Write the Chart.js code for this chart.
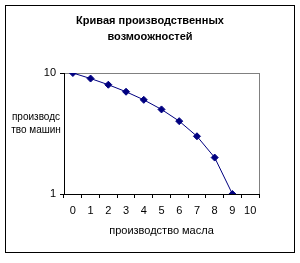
<!DOCTYPE html>
<html>
<head>
<meta charset="utf-8">
<script src="https://cdn.jsdelivr.net/npm/chart.js@4"></script>
<style>
  html, body { margin: 0; padding: 0; background: #fff; }
  #wrap { width: 300px; height: 263px; }
</style>
</head>
<body>
<div id="wrap"><canvas id="ppf"></canvas></div>
<script>
// production possibilities data
const butterLabels = ['0', '1', '2', '3', '4', '5', '6', '7', '8', '9', '10'];
const machineValues = [10, 9, 8, 7, 6, 5, 4, 3, 2, 1, null];
const yTickValues = [1, 10];
const titleLines = ['Кривая производственных', 'возмоожностей'];
const yTitleLines = ['производс', 'тво машин'];
const xTitle = 'производство масла';

const FONT = "'Liberation Sans', Arial, sans-serif";

// outer frame, grey plot frame, title and the horizontal y title
const decorations = {
    id: 'decorations',
    beforeDraw(chart) {
        const { ctx, chartArea: a } = chart;
        ctx.save();
        ctx.fillStyle = '#fff';
        ctx.fillRect(0, 0, chart.width, chart.height);
        ctx.strokeStyle = '#000';
        ctx.lineWidth = 1;
        ctx.strokeRect(5.5, 5.5, 289, 247);
        ctx.strokeStyle = '#808080';
        ctx.strokeRect(a.left + 0.5, a.top + 0.5, a.right - a.left, a.bottom - a.top);
        ctx.restore();
    },
    afterDraw(chart) {
        const { ctx } = chart;
        ctx.save();
        ctx.fillStyle = '#000';
        ctx.textAlign = 'center';
        ctx.textBaseline = 'middle';
        ctx.font = 'bold 11px ' + FONT;
        titleLines.forEach((line, i) => ctx.fillText(line, 150, 21 + i * 16));
        ctx.font = '10px ' + FONT;
        yTitleLines.forEach((line, i) => ctx.fillText(line, 36, 117 + i * 13));
        ctx.restore();
    }
};

new Chart(document.getElementById('ppf'), {
    type: 'line',
    data: {
        labels: butterLabels,
        datasets: [{
            data: machineValues,
            borderColor: '#000080',
            backgroundColor: '#000080',
            borderWidth: 1,
            pointStyle: 'rectRot',
            pointRadius: 3.5,
            pointBorderWidth: 1,
            tension: 0
        }]
    },
    options: {
        responsive: true,
        maintainAspectRatio: false,
        animation: false,
        layout: { padding: { left: 0, right: 41, top: 73, bottom: 23 } },
        plugins: {
            legend: { display: false },
            tooltip: { enabled: false },
            title: { display: false }
        },
        scales: {
            x: {
                type: 'category',
                offset: true,
                grid: { offset: true, drawOnChartArea: false, drawTicks: true, tickLength: 4, color: '#000' },
                border: { display: true, color: '#000' },
                ticks: { color: '#000', font: { family: FONT, size: 11 }, padding: 6, maxRotation: 0, autoSkip: false },
                title: { display: true, text: xTitle, color: '#000', font: { family: FONT, size: 11 }, padding: { top: 6, bottom: 2 } },
                afterFit(scale) { scale.height = 46; }
            },
            y: {
                type: 'logarithmic',
                min: 1,
                max: 10,
                afterBuildTicks(scale) { scale.ticks = yTickValues.map(v => ({ value: v })); },
                grid: { drawOnChartArea: false, drawTicks: true, tickLength: 4, color: '#000' },
                border: { display: true, color: '#000' },
                ticks: {
                    color: '#000',
                    font: { family: FONT, size: 11 },
                    padding: 4,
                    callback: v => String(v)
                },
                afterFit(scale) { scale.width = 64; }
            }
        }
    },
    plugins: [decorations]
});
</script>
</body>
</html>
